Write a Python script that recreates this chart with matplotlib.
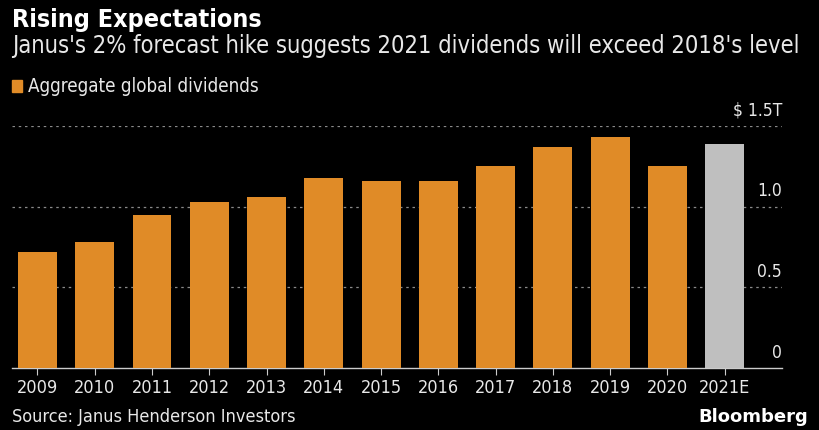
import matplotlib.pyplot as plt

years = ["2009", "2010", "2011", "2012", "2013", "2014", "2015",
         "2016", "2017", "2018", "2019", "2020", "2021E"]
dividends = [0.72, 0.78, 0.95, 1.03, 1.06, 1.18, 1.16,
             1.16, 1.25, 1.37, 1.43, 1.25, 1.39]
y_ticks = [0, 0.5, 1.0, 1.5]
y_tick_labels = ["0", "0.5", "1.0", "$ 1.5T"]

orange = "#E08B27"
grey_bar = "#BFBFBF"
txt = "#E8E8E8"
fonts = ["DejaVu Sans"]

fig = plt.figure(figsize=(8.2, 4.3), dpi=100, facecolor="black")
ax = fig.add_axes([0.0146, 0.1442, 0.9391, 0.5628], facecolor="black")

x = list(range(len(years)))
colors = [orange] * (len(years) - 1) + [grey_bar]
ax.bar(x, dividends, width=0.68, color=colors, zorder=3)

ax.set_xlim(-0.445, 13.0)
ax.set_ylim(0, 1.5)

# dotted gridlines, labels sit just above them on the right
for v, lab in zip(y_ticks, y_tick_labels):
    if v > 0:
        ax.axhline(v, color="#8A8A8A", linestyle=(0, (2, 3)), linewidth=0.9, zorder=1)
    ax.text(13.0, v + 0.04, lab, ha="right", va="bottom", color=txt,
            fontsize=12.5, family=fonts, stretch="condensed")

ax.set_yticks([])
ax.set_xticks(x)
ax.set_xticklabels(years, color=txt, fontsize=13, family=fonts, stretch="condensed")
ax.tick_params(axis="x", length=5, width=0.8, color="#CCCCCC", pad=3)
for s in ["top", "right", "left"]:
    ax.spines[s].set_visible(False)
ax.spines["bottom"].set_color("#CCCCCC")
ax.spines["bottom"].set_linewidth(1)

fig.text(0.0146, 0.953, "Rising Expectations", color="white", fontsize=18,
         fontweight="bold", family=fonts, stretch="condensed", va="center")
sub = fig.text(0.0146, 0.893,
               "Janus's 2% forecast hike suggests 2021 dividends will exceed 2018's level",
               color=txt, fontsize=17, family=fonts, stretch="condensed", va="center")

# shrink the subtitle until it spans the same width as in the reference
r = fig.canvas.get_renderer()
w = sub.get_window_extent(r).width
if w > 788:
    sub.set_fontsize(17 * 788 / w)

# legend
fig.patches.append(plt.Rectangle((0.0146, 0.787), 0.0122, 0.026, color=orange,
                                 transform=fig.transFigure, figure=fig))
fig.text(0.034, 0.800, "Aggregate global dividends", color=txt, fontsize=13.5,
         family=fonts, stretch="condensed", va="center")

fig.text(0.0146, 0.03, "Source: Janus Henderson Investors", color=txt,
         fontsize=13, family=fonts, stretch="condensed", va="center")
fig.text(0.985, 0.03, "Bloomberg", color="white", fontsize=13,
         fontweight="bold", family=fonts, ha="right", va="center")

fig.savefig("out.png", dpi=100, facecolor="black")
